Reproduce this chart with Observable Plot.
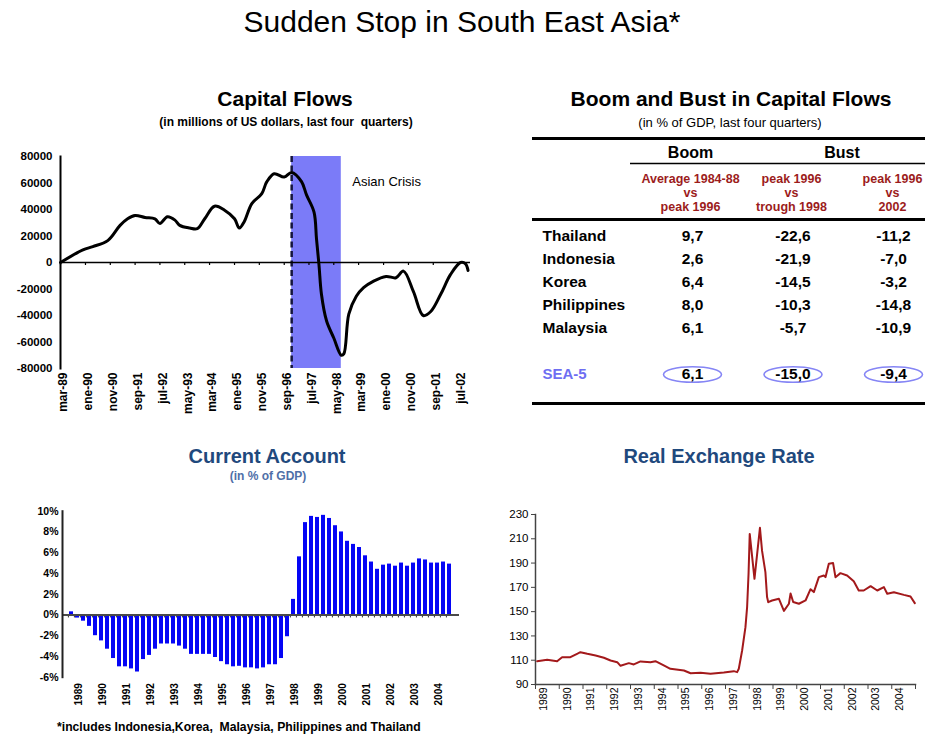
<!DOCTYPE html>
<html>
<head>
<meta charset="utf-8">
<script src="https://cdn.jsdelivr.net/npm/d3@7"></script>
<script src="https://cdn.jsdelivr.net/npm/@observablehq/plot@0.6"></script>
<style>
  html, body { margin: 0; padding: 0; background: #fff; }
  #page { position: relative; width: 925px; height: 738px; overflow: hidden;
          font-family: "Liberation Sans", Arial, Helvetica, sans-serif; color: #000; }
  .lbl { position: absolute; white-space: pre; line-height: 1; transform: translate(-50%, -50%); }
  .box { position: absolute; }
  .box svg { overflow: visible; }
  .rule { position: absolute; background: #000; }
</style>
</head>
<body>
<div id="page">
  <div class="lbl" style="left:462px;top:22px;font-size:30px;">Sudden Stop in South East Asia*</div>

  <div class="lbl" style="left:285px;top:98px;font-size:21px;font-weight:bold;">Capital Flows</div>
  <div class="lbl" style="left:286px;top:122px;font-size:12px;font-weight:bold;">(in millions of US dollars, last four  quarters)</div>

  <div class="lbl" style="left:731px;top:98px;font-size:21px;font-weight:bold;">Boom and Bust in Capital Flows</div>
  <div class="lbl" style="left:730px;top:122px;font-size:13px;">(in % of GDP, last four quarters)</div>
  <div class="rule" style="left:532px;top:137px;width:393px;height:3px;"></div>
  <div class="rule" style="left:532px;top:218px;width:393px;height:3px;"></div>
  <div class="rule" style="left:532px;top:402px;width:393px;height:3px;"></div>

  <div class="lbl" style="left:267px;top:456px;font-size:20px;font-weight:bold;color:#1f497d;">Current Account</div>
  <div class="lbl" style="left:268px;top:476px;font-size:12px;font-weight:bold;color:#4f6fa8;">(in % of GDP)</div>

  <div class="lbl" style="left:719px;top:456px;font-size:20px;font-weight:bold;color:#1f497d;">Real Exchange Rate</div>

  <div class="lbl" style="left:57px;top:727px;transform:translate(0,-50%);font-size:12.2px;font-weight:bold;">*includes Indonesia,Korea,  Malaysia, Philippines and Thailand</div>
</div>
<script>
// ---------------- Capital flows (millions of US$, last four quarters) ----------------
const cfMonths = ["1989-03","1989-12","1990-04","1990-10","1991-03","1991-06","1991-09","1992-01","1992-05","1992-07",
  "1992-10","1993-01","1993-03","1993-07","1993-10","1994-01","1994-05","1994-09","1995-01","1995-03",
  "1995-05","1995-08","1995-12","1996-02","1996-05","1996-09","1996-12","1997-04","1997-06","1997-09",
  "1997-10","1997-11","1997-12","1998-02","1998-05","1998-08","1998-09","1998-11","1999-02","1999-05",
  "1999-09","2000-02","2000-06","2000-09","2001-01","2001-05","2001-08","2001-12","2002-04","2002-08",
  "2002-10","2002-11"];
const cfValues = [0, 9500, 12000, 16500, 28000, 33000, 35500, 34000, 33000, 29500,
  34500, 32000, 28000, 26000, 25500, 33000, 42500, 39500, 33000, 26000,
  31000, 44500, 52000, 61000, 67000, 64500, 68000, 61000, 51000, 38000,
  18000, -2000, -24000, -44000, -57000, -70000, -69000, -39000, -25500, -19000,
  -14000, -10500, -11500, -6500, -22000, -40000, -37000, -24000, -9000, 0,
  -1000, -6000];
const cfTickMonths = ["1989-03","1990-01","1990-11","1991-09","1992-07","1993-05","1994-03","1995-01","1995-11",
  "1996-09","1997-07","1998-05","1999-03","2000-01","2000-11","2001-09","2002-07"];
const cfTickLabels = ["mar-89","ene-90","nov-90","sep-91","jul-92","may-93","mar-94","ene-95","nov-95",
  "sep-96","jul-97","may-98","mar-99","ene-00","nov-00","sep-01","jul-02"];
const cfYTicks = [80000, 60000, 40000, 20000, 0, -20000, -40000, -60000, -80000];
const crisisStart = "1996-12";
const crisisEnd = "1998-08";
const crisisLabel = "Asian Crisis";

// ---------------- Boom and bust table (% of GDP) ----------------
const countries = ["Thailand", "Indonesia", "Korea", "Philippines", "Malaysia"];
const boomVsPeak = [9.7, 2.6, 6.4, 8.0, 6.1];
const peakVsTrough = [-22.6, -21.9, -14.5, -10.3, -5.7];
const peakVs2002 = [-11.2, -7.0, -3.2, -14.8, -10.9];
const aggregateName = "SEA-5";
const aggregateValues = [6.1, -15.0, -9.4];
const columnGroups = ["Boom", "Bust", "Bust"];
const columnHeads = ["Average 1984-88\nvs\npeak 1996", "peak 1996\nvs\ntrough 1998", "peak 1996\nvs\n2002"];

// ---------------- Current account (% of GDP, quarterly) ----------------
const caYears = [1989, 1990, 1991, 1992, 1993, 1994, 1995, 1996, 1997, 1998, 1999, 2000, 2001, 2002, 2003, 2004];
const caValues = [0.3, -0.3, -0.6, -1.1, -2.0, -2.5, -3.3, -4.2, -5.0, -5.0, -5.2, -5.5,
  -4.3, -3.9, -3.3, -2.8, -2.8, -2.8, -3.0, -3.3, -3.8, -3.8,
  -3.8, -3.8, -4.1, -4.5, -4.8, -5.0, -4.95, -5.1, -5.1, -5.2, -5.1, -4.8, -4.8, -4.2, -2.1,
  1.5, 5.6, 8.9, 9.5, 9.4, 9.6, 9.3,
  8.6, 8.0, 7.1, 6.8, 6.5, 5.7, 5.1, 4.4, 4.8, 4.9, 4.7, 5.0, 4.7, 5.0, 5.4, 5.3, 5.0, 5.0, 5.1, 4.9];
const caYTicks = [10, 8, 6, 4, 2, 0, -2, -4, -6];

// ---------------- Real exchange rate ----------------
const rerTime = [1989.07, 1989.49, 1989.91, 1990.12, 1990.47, 1990.75, 1990.89, 1991.18, 1991.53, 1991.88,
  1992.16, 1992.44, 1992.58, 1992.93, 1993.14, 1993.42, 1993.84, 1994.05, 1994.40, 1994.68,
  1995.25, 1995.53, 1995.95, 1996.37, 1996.93, 1997.35, 1997.49, 1997.56, 1997.70, 1997.84,
  1997.91, 1997.97, 1998.02, 1998.22, 1998.45, 1998.54, 1998.68, 1998.75, 1998.80, 1998.96,
  1999.25, 1999.46, 1999.67, 1999.74, 1999.85, 2000.09, 2000.37, 2000.58, 2000.72, 2000.93,
  2001.14, 2001.21, 2001.35, 2001.53, 2001.63, 2001.84, 2002.12, 2002.40, 2002.61, 2002.82,
  2003.11, 2003.39, 2003.67, 2003.81, 2004.09, 2004.51, 2004.79, 2004.97];
const rerValues = [109.2, 110.3, 109.2, 112.5, 112.5, 115.3, 116.6, 115.3, 113.9, 112.0,
  109.8, 108.4, 105.4, 107.6, 106.5, 109.0, 108.4, 109.2, 105.7, 102.9,
  101.5, 99.3, 99.6, 98.8, 99.9, 101.0, 100.2, 103, 118, 137.2,
  153.7, 181, 214, 177, 219, 200, 182.5, 162, 157.8, 159.2,
  160.6, 150.6, 156.5, 165, 158, 156.5, 159.2, 168.5, 166.1, 178.4,
  179.8, 178.4, 189.4, 190.0, 178.4, 181.7, 179.8, 175, 167.4, 167.4,
  171, 167.4, 170.2, 164.7, 166, 163.8, 162.5, 157];
const rerYTicks = [230, 210, 190, 170, 150, 130, 110, 90];
const rerYears = [1989, 1990, 1991, 1992, 1993, 1994, 1995, 1996, 1997, 1998, 1999, 2000, 2001, 2002, 2003, 2004];

// ================= drawing =================
const FONT = '"Liberation Sans", Arial, Helvetica, sans-serif';
const page = document.getElementById("page");
function place(node, left, top) {
  const d = document.createElement("div");
  d.className = "box";
  d.style.left = left + "px";
  d.style.top = top + "px";
  d.appendChild(node);
  page.appendChild(d);
}
const baseStyle = {fontFamily: FONT, fontSize: "11px", background: "transparent", color: "#000", overflow: "visible"};

// ---- Capital flows
const parseMonth = d3.utcParse("%Y-%m");
const cfData = cfMonths.map((m, i) => ({date: parseMonth(m), value: cfValues[i]}));
const cfTicks = cfTickMonths.map(parseMonth);
const cfTickText = new Map(cfTicks.map((d, i) => [+d, cfTickLabels[i]]));
const crisis = [{start: parseMonth(crisisStart), end: parseMonth(crisisEnd), label: crisisLabel}];
const cfChart = Plot.plot({
  width: 475, height: 275,
  marginLeft: 60, marginRight: 5, marginTop: 16, marginBottom: 47,
  style: baseStyle,
  x: {type: "utc", domain: [cfData[0].date, d3.utcMonth.offset(cfData[cfData.length - 1].date, 1)]},
  y: {domain: [-80000, 80000]},
  marks: [
    Plot.rect(crisis, {x1: "start", x2: "end", fill: "#7b7bf8"}),
    Plot.ruleX(crisis, {x: "start", stroke: "#14143c", strokeWidth: 2.5, strokeDasharray: "6,3.5"}),
    Plot.text(crisis, {x: "end", text: "label", frameAnchor: "top", textAnchor: "start", dx: 11, dy: 20, fontSize: 13}),
    Plot.ruleY([0], {stroke: "#000", strokeWidth: 1.5}),
    Plot.ruleX(cfTicks, {x: d => d, y1: 0, y2: 0, insetBottom: -3, stroke: "#000", strokeWidth: 1.2}),
    Plot.frame({anchor: "left", stroke: "#000", strokeWidth: 2}),
    Plot.axisY(cfYTicks, {tickSize: 0, tickPadding: 8, tickFormat: d => String(d), fontSize: 11.5, fontWeight: "bold", label: null}),
    Plot.axisX(cfTicks, {tickSize: 0, tickPadding: 4, tickRotate: -90, dx: 3, tickFormat: d => cfTickText.get(+d),
      fontSize: 12, fontWeight: "bold", label: null}),
    Plot.line(cfData, {x: "date", y: "value", stroke: "#000", strokeWidth: 3, curve: "catmull-rom"})
  ]
});
place(cfChart, 0, 140);

// ---- Table
const fmtComma = d3.formatLocale({decimal: ",", thousands: ".", grouping: [3], currency: ["", ""], minus: "-"}).format(".1f");
const colSeries = [boomVsPeak, peakVsTrough, peakVs2002];
const cells = countries.flatMap((c, i) => colSeries.map((s, j) => ({row: c, col: j, value: s[i]})));
const aggCells = aggregateValues.map((v, j) => ({row: aggregateName, col: j, value: v}));
const groupPos = Array.from(new Set(columnGroups)).map(g => ({
  name: g, col: d3.mean(columnGroups.map((x, i) => x === g ? i : NaN).filter(i => !isNaN(i)))
}));
const ellipse = {
  draw(ctx) {
    const rx = 29, ry = 7.8, k = 0.5523, kx = rx * k, ky = ry * k;
    ctx.moveTo(rx, 0);
    ctx.bezierCurveTo(rx, ky, kx, ry, 0, ry);
    ctx.bezierCurveTo(-kx, ry, -rx, ky, -rx, 0);
    ctx.bezierCurveTo(-rx, -ky, -kx, -ry, 0, -ry);
    ctx.bezierCurveTo(kx, -ry, rx, -ky, rx, 0);
    ctx.closePath();
  }
};
const headChart = Plot.plot({
  width: 295, height: 82, marginLeft: 0, marginRight: 0, marginTop: 0, marginBottom: 0,
  style: baseStyle,
  x: {domain: [0, 2], range: [60, 262], axis: null},
  y: {type: "point", domain: ["group", "head"], range: [14, 54], padding: 0, axis: null},
  marks: [
    Plot.text(groupPos, {x: "col", y: () => "group", text: "name", fontSize: 16, fontWeight: "bold"}),
    Plot.ruleY(["group"], {dy: 11, stroke: "#000", strokeWidth: 1.5}),
    Plot.text(columnHeads, {x: (d, i) => i, y: () => "head", text: d => d, fontSize: 12.5, fontWeight: "bold",
      fill: "#9c1c1c", lineHeight: 1.12})
  ]
});
place(headChart, 630, 138);

const bodyChart = Plot.plot({
  width: 395, height: 185, marginLeft: 12, marginRight: 0, marginTop: 0, marginBottom: 0,
  style: baseStyle,
  x: {domain: [0, 2], range: [162, 363], axis: null},
  y: {type: "point", domain: [...countries, "", aggregateName], range: [13, 156], padding: 0, axis: null},
  marks: [
    Plot.dot(aggCells, {x: "col", y: "row", symbol: ellipse, stroke: "#8585f5", strokeWidth: 1.6, fill: "none"}),
    Plot.text(countries, {y: d => d, text: d => d, frameAnchor: "left", textAnchor: "start", fontSize: 15.5, fontWeight: "bold"}),
    Plot.text([aggregateName], {y: d => d, text: d => d, frameAnchor: "left", textAnchor: "start", fontSize: 15,
      fontWeight: "bold", fill: "#6e6ef2"}),
    Plot.text([...cells, ...aggCells], {x: "col", y: "row", text: d => fmtComma(d.value), fontSize: 15.5, fontWeight: "bold"})
  ]
});
place(bodyChart, 530, 220);

// ---- Current account
const caQuarters = caYears.flatMap(y => ["Q1", "Q2", "Q3", "Q4"].map(q => y + q));
const caData = caQuarters.map((q, i) => ({quarter: q, value: caValues[i]}));
const caYearTicks = caYears.map(y => y + "Q1");
const caChart = Plot.plot({
  width: 465, height: 215,
  marginLeft: 62, marginRight: 6, marginTop: 10.7, marginBottom: 38.3,
  style: baseStyle,
  x: {type: "band", domain: caQuarters, paddingInner: 0.3, paddingOuter: 0.1},
  y: {domain: [-6, 10]},
  marks: [
    Plot.barY(caData, {x: "quarter", y: "value", fill: "#0505f5"}),
    Plot.ruleX(caQuarters, {x: d => d, y1: 0, y2: 0, insetBottom: -3, dx: -3.1, stroke: "#333"}),
    Plot.ruleY([0], {stroke: "#4a4a4a", strokeWidth: 2}),
    Plot.frame({anchor: "left", stroke: "#222", strokeWidth: 2}),
    Plot.axisY(caYTicks, {tickSize: 0, tickPadding: 4, tickFormat: d => d + "%", fontSize: 10.5, fontWeight: "bold", label: null}),
    Plot.axisX(caYearTicks, {tickSize: 0, tickPadding: 6, tickRotate: -90, dx: 7, tickFormat: d => d.slice(0, 4),
      fontSize: 10, fontWeight: "bold", label: null})
  ]
});
place(caChart, 0, 500);

// ---- Real exchange rate
const rerData = rerTime.map((t, i) => ({t, v: rerValues[i]}));
const rerTickYears = [...rerYears, rerYears[rerYears.length - 1] + 1];
const rerChart = Plot.plot({
  width: 460, height: 215,
  marginLeft: 70, marginRight: 10, marginTop: 14, marginBottom: 31,
  style: baseStyle,
  x: {domain: [rerTickYears[0], rerTickYears[rerTickYears.length - 1]]},
  y: {domain: [90, 230]},
  marks: [
    Plot.frame({anchor: "left", stroke: "#444", strokeWidth: 1.5}),
    Plot.frame({anchor: "bottom", stroke: "#444", strokeWidth: 1.5}),
    Plot.axisY(rerYTicks, {tickSize: 4, tickPadding: 3, tickFormat: d => String(d), fontSize: 11.5, stroke: "#444", label: null}),
    Plot.axisX(rerTickYears, {tickSize: 5, tickFormat: () => "", stroke: "#444", label: null}),
    Plot.axisX(rerYears, {tickSize: 0, tickPadding: 3, tickRotate: -90, dx: 8, tickFormat: d => String(d), fontSize: 10.5, label: null}),
    Plot.line(rerData, {x: "t", y: "v", stroke: "#a3191b", strokeWidth: 2})
  ]
});
place(rerChart, 465, 500);
</script>
</body>
</html>
